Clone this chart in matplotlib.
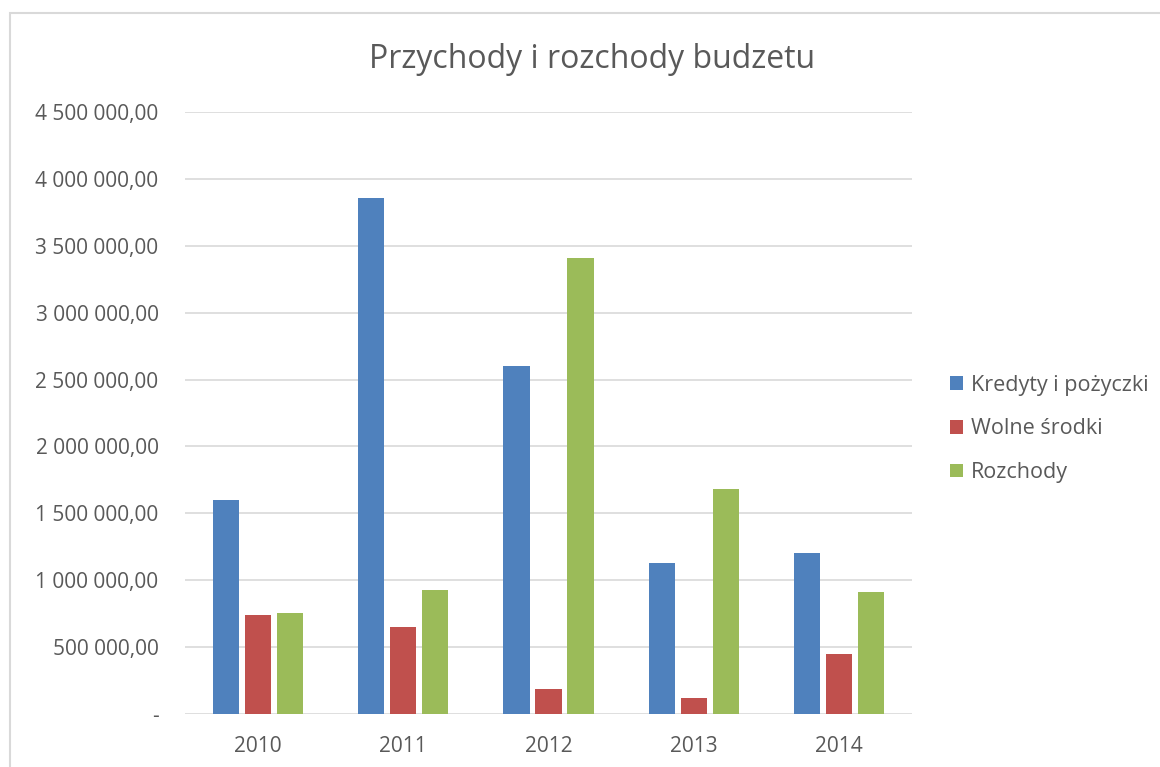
import matplotlib.pyplot as plt
from matplotlib.patches import Rectangle
import numpy as np

years = ['2010', '2011', '2012', '2013', '2014']
kredyty = [1600000, 3860000, 2600000, 1128000, 1203000]
wolne = [740000, 650000, 185000, 118000, 449000]
rozchody = [755000, 928000, 3409000, 1682000, 912000]
series_names = ['Kredyty i pożyczki', 'Wolne środki', 'Rozchody']
colors = ['#4F81BD', '#C0504D', '#9BBB59']

plt.rcParams['font.family'] = ['Open Sans', 'DejaVu Sans']
txt = '#595959'


def fmt(v):
    if v == 0:
        return '-'
    return '{:,.2f}'.format(v).replace(',', ' ').replace('.', ',')


fig = plt.figure(figsize=(11.6, 7.67), dpi=100)
fig.patches.append(Rectangle((10 / 1160, -0.05), 1.1, 1 - 13 / 767 + 0.05,
                             transform=fig.transFigure, fill=False,
                             edgecolor='#D9D9D9', linewidth=1.5))
ax = fig.add_axes([185 / 1160, 1 - 714 / 767, 727 / 1160, 602 / 767])

x = np.arange(len(years))
w = 0.18
off = 0.22
for i, (vals, name) in enumerate(zip([kredyty, wolne, rozchody], series_names)):
    ax.bar(x + (i - 1) * off, vals, w, color=colors[i], label=name, zorder=3)

ax.set_xlim(-0.5, len(years) - 0.5)
ax.set_ylim(0, 4500000)
ticks = np.arange(0, 4500001, 500000)
ax.set_yticks(ticks)
ax.set_yticklabels([fmt(t) for t in ticks], fontsize=15, color=txt)
ax.set_xticks(x)
ax.set_xticklabels(years, fontsize=15, color=txt)
ax.tick_params(axis='both', length=0)
ax.tick_params(axis='y', pad=19)
ax.tick_params(axis='x', pad=16)
ax.grid(axis='y', color='#D9D9D9', linewidth=1.2, zorder=0)
for s in ax.spines.values():
    s.set_visible(False)

fig.text(592 / 1160, 1 - 60 / 767, 'Przychody i rozchody budzetu',
         ha='center', va='center', fontsize=23, color=txt)

fig.legend(loc='center left', bbox_to_anchor=(931 / 1160, 1 - 429 / 767),
           frameon=False, fontsize=15.5, labelcolor=txt,
           handlelength=0.6, handleheight=0.6, handletextpad=0.35,
           labelspacing=1.05)

fig.savefig('out.png', dpi=100)
